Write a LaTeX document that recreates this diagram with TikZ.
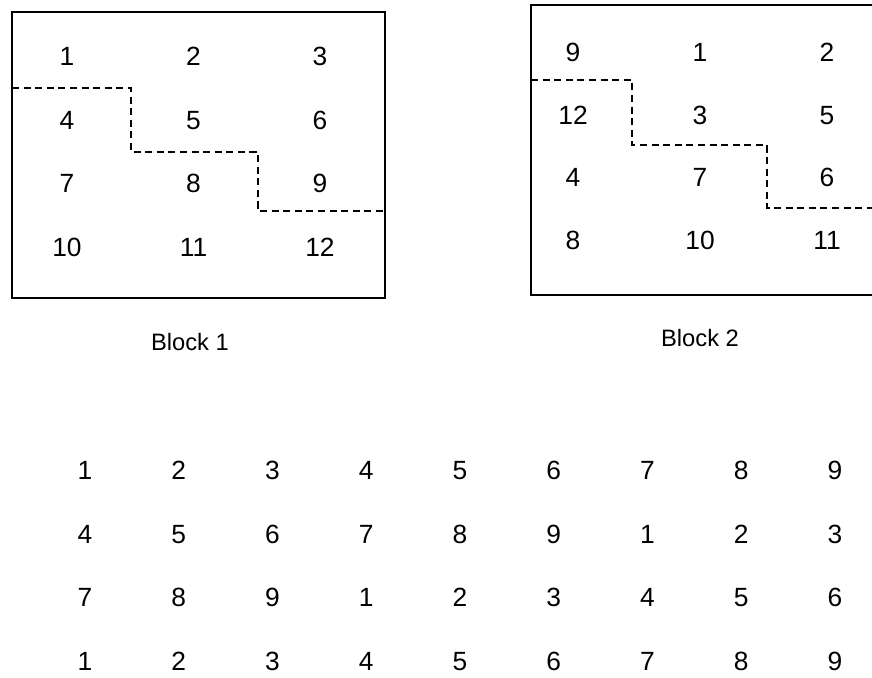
\documentclass[tikz,border=0pt]{standalone}
\usepackage{fontspec}
\setmainfont{Liberation Sans}
\usetikzlibrary{calc}

\begin{document}
\begin{tikzpicture}[x=.02cm,y=-.02cm,font=\fontsize{15}{18}\selectfont,
  box/.style={line width=1pt},
  cut/.style={line width=1.1pt,dash pattern=on 4pt off 2.6pt},
  num/.style={text height=10.8pt,text depth=0pt,inner sep=2pt},
  lbl/.style={font=\fontsize{13.5}{16}\selectfont}]
\useasboundingbox (0,0) rectangle (872,677);
% block 1
\draw[box] (12,12) rectangle (385,298);
\foreach \v [count=\i from 0] in {1,...,12}{
  \pgfmathsetmacro\xx{67+126.5*mod(\i,3)}
  \pgfmathsetmacro\yy{56+63.7*int(\i/3)}
  \node[num] (a\v) at (\xx,\yy) {\v};}
\draw[cut] (12,88) -| (131,152) -| (258,211) -- (385,211);
\node[lbl] (lbl1) at (190,342) {Block 1};
% block 2, cut off at the right
\draw[box] (872,5) -| (531,295) -- (872,295);
\foreach \v [count=\i from 0] in {9,1,2,12,3,5,4,7,6,8,10,11}{
  \pgfmathsetmacro\xx{573+127*mod(\i,3)}
  \pgfmathsetmacro\yy{52+62.7*int(\i/3)}
  \node[num] (b\i) at (\xx,\yy) {\v};}
\draw[cut] (531,80) -| (632,145) -| (767,208) -- (872,208);
\node[lbl] (lbl2) at (700,338) {Block 2};
% table below
\foreach \r/\s in {0/0,1/3,2/6,3/0}{
  \foreach \c in {0,...,8}{
    \pgfmathtruncatemacro\v{mod(\c+\s,9)+1}
    \node[num] (g\r\c) at (85+93.75*\c,470+63.7*\r) {\v};}}
\end{tikzpicture}
\end{document}
